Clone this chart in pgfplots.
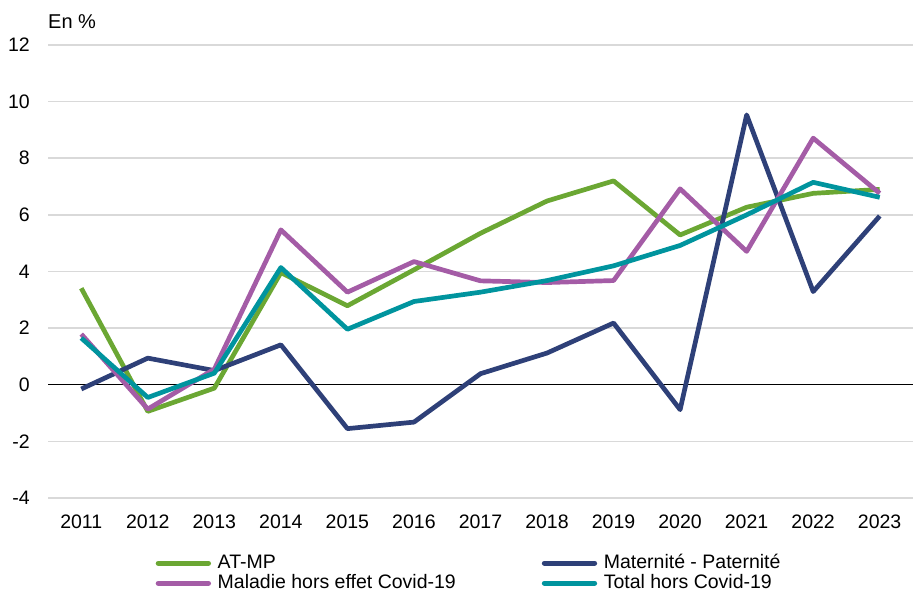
\documentclass[border=0pt]{standalone}
\usepackage{fontspec}
\setmainfont{Liberation Sans}
\usepackage{pgfplots}
\pgfplotsset{compat=1.18}
\definecolor{cgreen}{RGB}{107,167,51}
\definecolor{cnavy}{RGB}{46,64,120}
\definecolor{cpurple}{RGB}{164,92,166}
\definecolor{cteal}{RGB}{0,148,158}
\definecolor{cgrid}{RGB}{217,217,217}
\begin{document}
\fontsize{19.5bp}{23bp}\selectfont
\begin{tikzpicture}
\useasboundingbox (0,0) rectangle (913bp,593bp);
\node[anchor=west, inner sep=0pt, font=\fontsize{20bp}{23bp}\selectfont] at (48bp,571.5bp) {En \%};
\begin{axis}[
  at={(48bp,95bp)}, anchor=south west,
  scale only axis, width=865bp, height=453bp,
  xmin=2010.5, xmax=2023.5, ymin=-4, ymax=12,
  axis line style={draw=none},
  xtick={2011,...,2023},
  xticklabels={2011,2012,2013,2014,2015,2016,2017,2018,2019,2020,2021,2022,2023},
  ytick={-4,-2,...,12},
  yticklabels={-4,-2,0,2,4,6,8,10,12},
  major tick length=0pt,
  ymajorgrids, grid style={cgrid, line width=1.5bp},
  extra y ticks={0}, extra y tick labels={},
  extra y tick style={grid style={black, line width=1.3bp}},
  tick label style={font=\fontsize{19.5bp}{23bp}\selectfont, inner sep=0pt},
  yticklabel style={anchor=east, xshift=-18bp},
  xticklabel style={anchor=north, yshift=-17bp},
  legend columns=2,
  legend cell align=left,
  legend style={draw=none, fill=none, at={(0.1243,-0.1214)}, anchor=north west,
    font=\fontsize{19.5bp}{23bp}\selectfont, inner sep=0pt, row sep=0pt, column sep=0pt,
    nodes={inner sep=1bp, text height=14bp, text depth=4bp},
    /tikz/every even column/.append style={column sep=85bp}},
  legend image code/.code={\draw[#1, line width=5.3bp, line cap=round] (0bp,0bp) -- (50bp,0bp); \path (56bp,0bp);},
  every axis plot/.append style={line width=4.7bp, line join=round, mark=none},
]
\addplot[cgreen] coordinates {(2011,3.41) (2012,-0.94) (2013,-0.12) (2014,3.96) (2015,2.79) (2016,4.06) (2017,5.35) (2018,6.49) (2019,7.2) (2020,5.29) (2021,6.27) (2022,6.76) (2023,6.9)};
\addlegendentry{AT-MP}
\addplot[cnavy] coordinates {(2011,-0.15) (2012,0.94) (2013,0.5) (2014,1.41) (2015,-1.55) (2016,-1.32) (2017,0.39) (2018,1.12) (2019,2.18) (2020,-0.88) (2021,9.53) (2022,3.29) (2023,5.96)};
\addlegendentry{Maternité - Paternité}
\addplot[cpurple] coordinates {(2011,1.79) (2012,-0.86) (2013,0.55) (2014,5.47) (2015,3.27) (2016,4.35) (2017,3.67) (2018,3.61) (2019,3.68) (2020,6.92) (2021,4.71) (2022,8.71) (2023,6.76)};
\addlegendentry{Maladie hors effet Covid-19}
\addplot[cteal] coordinates {(2011,1.65) (2012,-0.45) (2013,0.41) (2014,4.14) (2015,1.96) (2016,2.94) (2017,3.27) (2018,3.68) (2019,4.2) (2020,4.92) (2021,6.0) (2022,7.15) (2023,6.62)};
\addlegendentry{Total hors Covid-19}
\end{axis}
\end{tikzpicture}
\end{document}
